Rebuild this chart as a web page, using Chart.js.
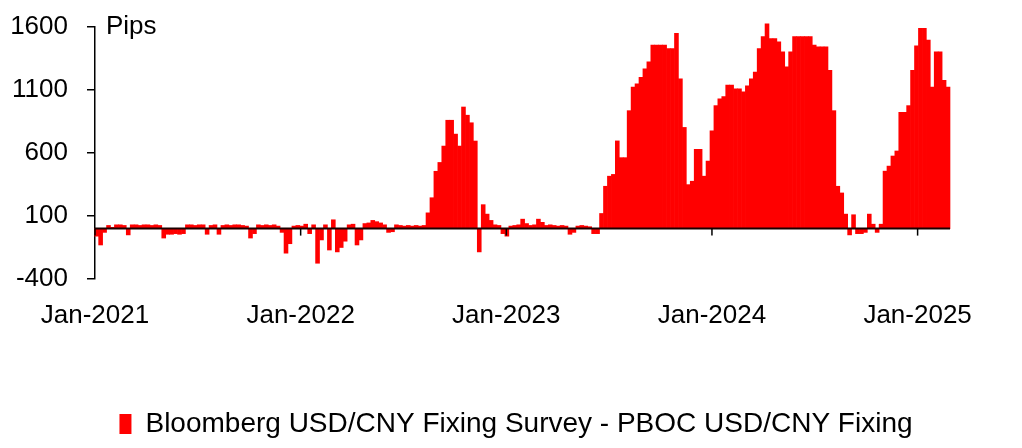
<!DOCTYPE html>
<html>
<head>
<meta charset="utf-8">
<script src="https://cdn.jsdelivr.net/npm/chart.js@4.4.1/dist/chart.umd.min.js"></script>
<style>
	body { margin: 0; background: #fff; }
	#wrap { width: 1022px; height: 448px; }
</style>
</head>
<body>
<div id="wrap"><canvas id="canvasFixingGap"></canvas></div>
<script>
// weekly values, pips (weeks starting Mondays from 2021-01-04)
var firstWeek = Date.UTC(2021, 0, 4);
var pips2021 = [
	-60, -130, -30, 25, 10, 30, 30, 25, -50, 30, 30, 25, 30, 30, 25, 30, 25,
	-75, -45, -45, -40, -45, -40, 30, 30, 25, 30, 30, -45, 25, 30, -45, 25, 30,
	25, 30, 30, 25, 20, -75, -40, 30, 25, 30, 25, 30, 20, -30, -195, -120, 20, 25
];
var pips2022 = [
	20, 35, -40, 30, -275, -90, 30, -170, 70, -185, -150, -100, 30, 35, -130, -90,
	40, 45, 65, 55, 45, 30, -30, -25, 30, 25, 20, 25, 20, 25, 20, 25,
	125, 245, 455, 525, 655, 860, 860, 750, 655, 965, 900, 840, 695, -185, 190, 115,
	65, 30, 25, -40
];
var pips2023 = [
	-60, 20, 25, 30, 75, 40, 25, 30, 75, 50, 25, 30, 25, 20, 25, 20, -45, -30,
	20, 25, 20, 15, -40, -40, 120, 336, 416, 430, 696, 563, 563, 936, 1123, 1149,
	1200, 1269, 1323, 1456, 1456, 1456, 1456, 1429, 1429, 1549, 1189, 803, 349, 376,
	629, 629, 416, 536
];
var pips2024 = [
	776, 976, 1029, 1048, 1139, 1139, 1109, 1109, 1085, 1133, 1189, 1243, 1429, 1523,
	1625, 1509, 1509, 1483, 1403, 1283, 1403, 1523, 1523, 1523, 1523, 1523, 1456, 1443,
	1443, 1443, 1256, 936, 336, 283, 115, -50, 110, -40, -40, -30, 115, 35, -30, 35,
	456, 496, 576, 616, 923, 923, 976, 1256, 1450
];
var pips2025 = [1589, 1589, 1496, 1123, 1403, 1403, 1176, 1123];
var yearTicks = [2021, 2022, 2023, 2024, 2025];
var yTicks = [-400, 100, 600, 1100, 1600];

var pipsAll = pips2021.concat(pips2022, pips2023, pips2024, pips2025);

// date -> fractional year
function yearFrac(ms) {
	var d = new Date(ms);
	var y = d.getUTCFullYear();
	var start = Date.UTC(y, 0, 1);
	var end = Date.UTC(y + 1, 0, 1);
	return y + (ms - start) / (end - start);
}

var points = [];
for (var i = 0; i < pipsAll.length; i++) {
	points.push({ x: yearFrac(firstWeek + i * 7 * 86400000), y: pipsAll[i] });
}
var xMax = yearFrac(firstWeek + (pipsAll.length - 0.5) * 7 * 86400000);

var fontFamily = '"Liberation Sans", Arial, sans-serif';

// "Pips" unit label + zero line with year tick marks, drawn over the bars
var overlay = {
	id: 'overlay',
	afterDatasetsDraw: function(chart) {
		var ctx = chart.ctx;
		var area = chart.chartArea;
		var xs = chart.scales.x;
		var y0 = chart.scales.y.getPixelForValue(0);
		ctx.save();
		ctx.strokeStyle = '#1a0000';
		ctx.lineWidth = 2;
		ctx.beginPath();
		ctx.moveTo(area.left, y0);
		ctx.lineTo(area.right, y0);
		ctx.stroke();
		ctx.strokeStyle = '#000';
		ctx.lineWidth = 1.5;
		yearTicks.forEach(function(v) {
			var px = xs.getPixelForValue(v);
			ctx.beginPath();
			ctx.moveTo(px, y0);
			ctx.lineTo(px, y0 + 7);
			ctx.stroke();
		});
		ctx.font = '26px ' + fontFamily;
		ctx.fillStyle = '#000';
		ctx.textBaseline = 'middle';
		ctx.fillText('Pips', area.left + 11, chart.scales.y.getPixelForValue(yTicks[yTicks.length - 1]));
		ctx.restore();
	}
};

new Chart(document.getElementById('canvasFixingGap'), {
	type: 'bar',
	data: {
		datasets: [{
			label: 'Bloomberg USD/CNY Fixing Survey - PBOC USD/CNY Fixing',
			data: points,
			backgroundColor: '#ff0000',
			borderWidth: 0,
			barPercentage: 1,
			categoryPercentage: 1,
			clip: false
		}]
	},
	options: {
		responsive: true,
		maintainAspectRatio: false,
		animation: false,
		layout: { padding: { left: 10, right: 0, top: 0, bottom: 0 } },
		plugins: {
			tooltip: { enabled: false },
			legend: {
				position: 'bottom',
				labels: {
					color: '#000',
					font: { family: fontFamily, size: 28 },
					boxWidth: 12,
					boxHeight: 20,
					padding: 8
				}
			}
		},
		scales: {
			x: {
				type: 'linear',
				offset: false,
				min: 2021,
				max: xMax,
				afterBuildTicks: function(scale) {
					scale.ticks = yearTicks.map(function(v) { return { value: v }; });
				},
				afterFit: function(scale) { scale.height = 123; },
				ticks: {
					autoSkip: false,
					maxRotation: 0,
					padding: 21,
					color: '#000',
					font: { family: fontFamily, size: 26 },
					callback: function(v) { return 'Jan-' + v; }
				},
				grid: { display: false, drawTicks: false },
				border: { display: false }
			},
			y: {
				min: yTicks[0],
				max: yTicks[yTicks.length - 1],
				afterBuildTicks: function(scale) {
					scale.ticks = yTicks.map(function(v) { return { value: v }; });
				},
				afterFit: function(scale) {
					scale.width = 85;
					scale.paddingTop = 27;
					scale.paddingBottom = 0;
				},
				ticks: {
					padding: 19,
					color: '#000',
					font: { family: fontFamily, size: 26 },
					callback: function(v) { return String(v); }
				},
				grid: { drawOnChartArea: false, tickLength: 8, tickColor: '#000', lineWidth: 1.5 },
				border: { color: '#000', width: 1.5 }
			},
			// empty right-hand margin so the legend stays centred on the page
			yRight: {
				position: 'right',
				afterFit: function(scale) { scale.width = 72; },
				ticks: { display: false },
				grid: { display: false },
				border: { display: false }
			}
		}
	},
	plugins: [overlay]
});
</script>
</body>
</html>
